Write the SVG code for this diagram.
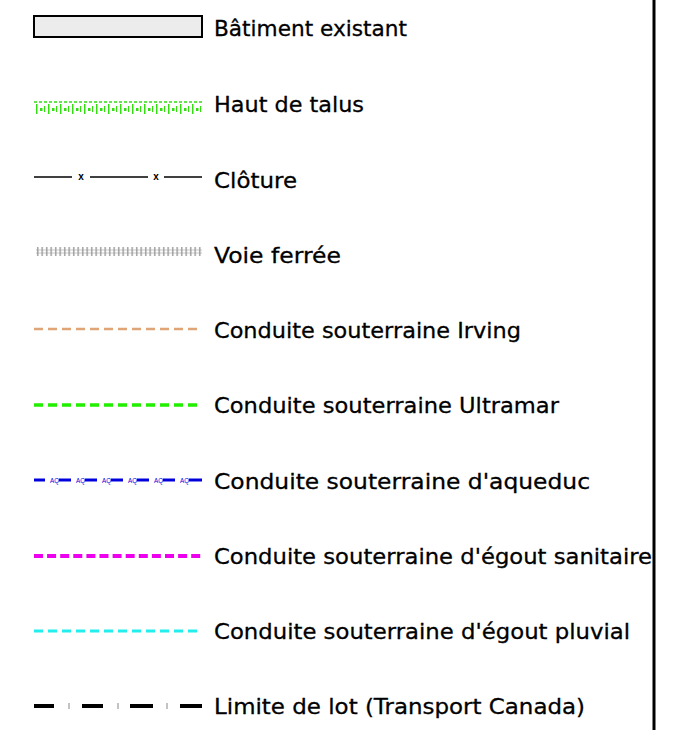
<svg xmlns="http://www.w3.org/2000/svg" width="686" height="730" viewBox="0 0 686 730">
  <defs>
    <style>
      .lbl { font-family: "DejaVu Sans", "Liberation Sans", Arial, sans-serif; font-size: 22px; fill: #000; stroke: #000; stroke-width: 0.3px; }
      .aq { font-family: "Liberation Sans", Arial, sans-serif; font-size: 8px; fill: #0000dd; }
      .xm { font-family: "Liberation Sans", Arial, sans-serif; font-size: 10px; font-weight: bold; fill: #000; }
    </style>
    <pattern id="talusTicks" x="34" y="0" width="12" height="20" patternUnits="userSpaceOnUse">
      <rect x="2" y="4" width="1.5" height="10" fill="#33dd11"/>
      <rect x="6" y="8" width="2.5" height="3" fill="#33dd11"/>
      <rect x="10" y="6" width="1.2" height="6" fill="#33dd11"/>
    </pattern>
    <pattern id="ties" x="36" y="0" width="4.5" height="20" patternUnits="userSpaceOnUse">
      <rect x="1" y="0" width="1.4" height="20" fill="#9a9a9a"/>
    </pattern>
  </defs>

  <rect width="686" height="730" fill="#fff"/>

  <!-- frame edge on the right -->
  <line x1="654" y1="0" x2="654" y2="730" stroke="#000" stroke-width="3"/>

  <g id="batiment">
    <rect x="34" y="16" width="168" height="21" fill="#ececec" stroke="#000" stroke-width="2"/>
    <text class="lbl" x="214" y="36" textLength="193" lengthAdjust="spacingAndGlyphs">Bâtiment existant</text>
  </g>

  <g id="talus">
    <line x1="34" y1="102" x2="202" y2="102" stroke="#33dd11" stroke-width="1.5" stroke-dasharray="3 2"/>
    <rect x="34" y="98" width="168" height="18" fill="url(#talusTicks)"/>
    <text class="lbl" x="214" y="112" textLength="150" lengthAdjust="spacingAndGlyphs">Haut de talus</text>
  </g>

  <g id="cloture">
    <g stroke="#000" stroke-width="1.6">
      <line x1="34" y1="177" x2="72" y2="177"/>
      <line x1="90" y1="177" x2="148" y2="177"/>
      <line x1="164" y1="177" x2="202" y2="177"/>
    </g>
    <text class="xm" x="81" y="180" text-anchor="middle">x</text>
    <text class="xm" x="156" y="180" text-anchor="middle">x</text>
    <text class="lbl" x="214" y="188" textLength="83" lengthAdjust="spacingAndGlyphs">Clôture</text>
  </g>

  <g id="voie">
    <line x1="36" y1="250" x2="202" y2="250" stroke="#c8c8c8" stroke-width="1"/>
    <line x1="36" y1="253" x2="202" y2="253" stroke="#c8c8c8" stroke-width="1"/>
    <rect x="36" y="247" width="166" height="9" fill="url(#ties)"/>
    <text class="lbl" x="214" y="263" textLength="127" lengthAdjust="spacingAndGlyphs">Voie ferrée</text>
  </g>

  <g id="irving">
    <line x1="34" y1="329" x2="202" y2="329" stroke="#e0a577" stroke-width="2.5" stroke-dasharray="9 5"/>
    <text class="lbl" x="214" y="338" textLength="307" lengthAdjust="spacingAndGlyphs">Conduite souterraine Irving</text>
  </g>

  <g id="ultramar">
    <line x1="34" y1="405" x2="202" y2="405" stroke="#22ee00" stroke-width="3.5" stroke-dasharray="9 5"/>
    <text class="lbl" x="214" y="413" textLength="345" lengthAdjust="spacingAndGlyphs">Conduite souterraine Ultramar</text>
  </g>

  <g id="aqueduc">
    <g stroke="#0000dd" stroke-width="3">
      <line x1="34" y1="480" x2="45" y2="480"/>
      <line x1="59" y1="480" x2="71" y2="480"/>
      <line x1="85" y1="480" x2="97" y2="480"/>
      <line x1="111" y1="480" x2="123" y2="480"/>
      <line x1="137" y1="480" x2="149" y2="480"/>
      <line x1="163" y1="480" x2="175" y2="480"/>
      <line x1="189" y1="480" x2="202" y2="480"/>
    </g>
    <text class="aq" x="50" y="483" textLength="9" lengthAdjust="spacingAndGlyphs">AQ</text>
    <text class="aq" x="76" y="483" textLength="9" lengthAdjust="spacingAndGlyphs">AQ</text>
    <text class="aq" x="102" y="483" textLength="9" lengthAdjust="spacingAndGlyphs">AQ</text>
    <text class="aq" x="128" y="483" textLength="9" lengthAdjust="spacingAndGlyphs">AQ</text>
    <text class="aq" x="154" y="483" textLength="9" lengthAdjust="spacingAndGlyphs">AQ</text>
    <text class="aq" x="180" y="483" textLength="9" lengthAdjust="spacingAndGlyphs">AQ</text>
    <text class="lbl" x="214" y="489" textLength="376" lengthAdjust="spacingAndGlyphs">Conduite souterraine d'aqueduc</text>
  </g>

  <g id="sanitaire">
    <line x1="34" y1="556" x2="202" y2="556" stroke="#ee00ee" stroke-width="4" stroke-dasharray="9 4.1"/>
    <text class="lbl" x="214" y="564" textLength="438" lengthAdjust="spacingAndGlyphs">Conduite souterraine d'égout sanitaire</text>
  </g>

  <g id="pluvial">
    <line x1="34" y1="631" x2="202" y2="631" stroke="#22eeee" stroke-width="3" stroke-dasharray="9 5"/>
    <text class="lbl" x="214" y="639" textLength="416" lengthAdjust="spacingAndGlyphs">Conduite souterraine d'égout pluvial</text>
  </g>

  <g id="limite">
    <g stroke="#000" stroke-width="4">
      <line x1="34" y1="706" x2="54" y2="706"/>
      <line x1="82" y1="706" x2="103" y2="706"/>
      <line x1="130" y1="706" x2="153" y2="706"/>
      <line x1="180" y1="706" x2="202" y2="706"/>
    </g>
    <g stroke="#888" stroke-width="1">
      <line x1="69" y1="703" x2="69" y2="709"/>
      <line x1="118" y1="703" x2="118" y2="709"/>
      <line x1="167" y1="703" x2="167" y2="709"/>
    </g>
    <text class="lbl" x="214" y="714" textLength="371" lengthAdjust="spacingAndGlyphs">Limite de lot (Transport Canada)</text>
  </g>
</svg>
